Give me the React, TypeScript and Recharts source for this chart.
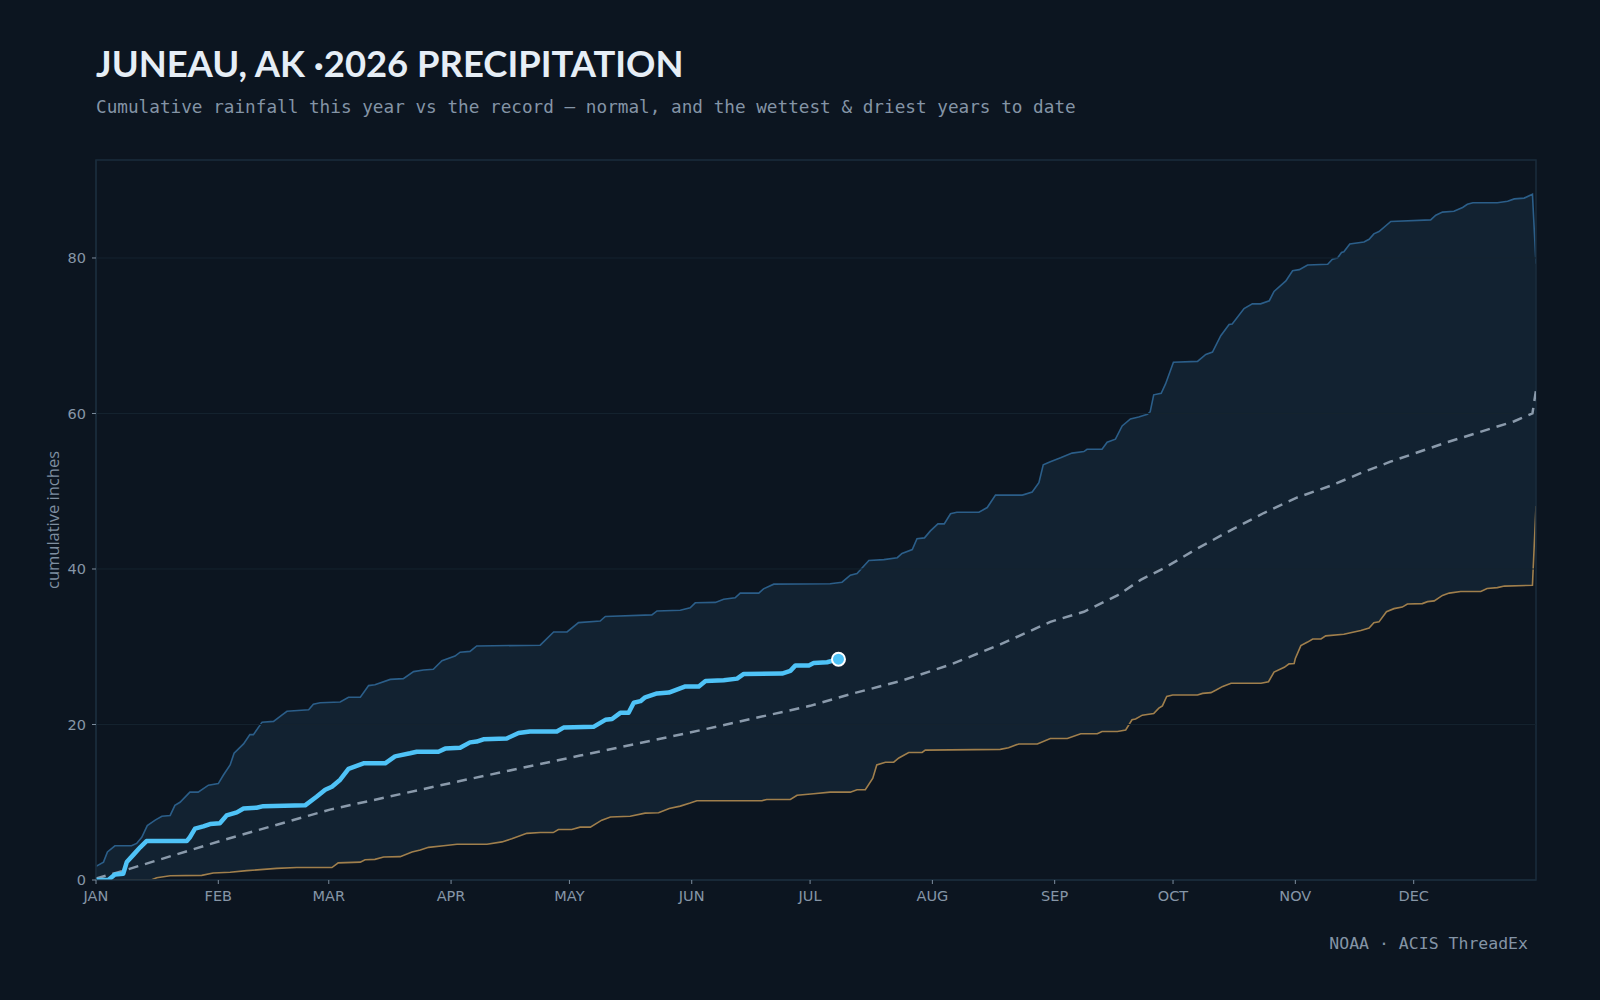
import {
  ComposedChart,
  Area,
  Line,
  XAxis,
  YAxis,
  ReferenceLine,
  ReferenceArea,
} from "recharts";

// day of year (0 = Jan 1) -> cumulative inches
const wettest: [number, number][] = [
  [0, 1.75], [1.9, 2.3], [2.9, 3.6], [4.8, 4.4], [9, 4.4], [10.3, 4.7], [11.6, 5.5], [13, 7.0],
  [15, 7.7], [16.7, 8.2], [18.8, 8.3], [20, 9.6], [21.3, 10.0], [23.8, 11.3], [25.9, 11.3],
  [28.5, 12.2], [31, 12.4], [32.3, 13.5], [34, 14.8], [35, 16.3], [37.4, 17.5], [39, 18.7],
  [39.9, 18.7], [42.1, 20.3], [45, 20.4], [47.1, 21.2], [48.4, 21.7], [53.9, 21.9], [55.1, 22.6],
  [56.8, 22.8], [61.9, 22.9], [64, 23.5], [67, 23.5], [69.1, 25.0], [70.7, 25.1], [74.6, 25.8],
  [77.9, 25.9], [80.5, 26.8], [83, 27.0], [85.5, 27.1], [87.7, 28.2], [91, 28.8], [92.3, 29.3],
  [94.8, 29.4], [96.5, 30.1], [112.6, 30.2], [116, 31.9], [119.4, 31.9], [122.3, 33.1],
  [127.8, 33.3], [129.1, 33.9], [140.9, 34.1], [142.2, 34.6], [148.1, 34.7], [150.6, 35.0],
  [151.9, 35.65], [157, 35.7], [159.1, 36.1], [162, 36.3], [163.3, 36.9], [168, 36.9],
  [169.2, 37.45], [171.8, 38.05], [186.1, 38.1], [189.1, 38.3], [191.2, 39.2], [192.9, 39.4],
  [195.9, 41.1], [199.7, 41.2], [203.1, 41.45], [204.3, 42.0], [206.9, 42.5], [208.1, 43.9],
  [210, 44.0], [211.5, 44.9], [213.4, 45.8], [215, 45.8], [216.6, 47.1], [218.2, 47.3],
  [223.8, 47.3], [225.9, 47.9], [228, 49.5], [234.8, 49.5], [237.3, 49.9], [239, 51.1],
  [240.1, 53.4], [241.9, 53.8], [244.5, 54.3], [247.4, 54.9], [250.4, 55.1], [251.2, 55.4],
  [255, 55.4], [256.3, 56.3], [258.4, 56.7], [260.1, 58.4], [262.2, 59.3], [264.3, 59.55],
  [266.5, 59.9], [267.2, 60.2], [268.1, 62.4], [270, 62.6], [271.1, 63.8], [273.1, 66.6],
  [279.2, 66.7], [281.3, 67.6], [283, 67.9], [285.1, 70.0], [287.2, 71.45], [288, 71.5],
  [291, 73.5], [293.1, 74.1], [295.2, 74.1], [297.4, 74.5], [298.6, 75.7], [301.6, 77.05],
  [303.3, 78.35], [305, 78.5], [307.1, 79.1], [312.2, 79.2], [313.4, 79.85], [314.7, 80.0],
  [315.7, 80.7], [316.3, 80.8], [317.8, 81.8], [321.4, 82.05], [322.7, 82.4], [323.9, 83.1],
  [325.2, 83.4], [328.2, 84.7], [338.3, 84.9], [339.6, 85.5], [341.3, 85.9], [344.2, 86.0],
  [346.4, 86.5], [347.6, 86.9], [349, 87.1], [355.2, 87.1], [357.8, 87.3], [359.5, 87.6],
  [362, 87.7], [364.1, 88.2], [365, 79.25],
];

const driest: [number, number][] = [
  [0, 0], [14, 0], [15.4, 0.3], [18.8, 0.55], [26.8, 0.6], [29.7, 0.9], [34, 1.0], [38.2, 1.2],
  [45.8, 1.5], [50.9, 1.6], [59.8, 1.6], [61.4, 2.2], [67, 2.3], [68.2, 2.6], [70.7, 2.65],
  [72.9, 2.95], [77.1, 3.0], [80.1, 3.6], [82.2, 3.85], [84.3, 4.2], [88.1, 4.4], [91.5, 4.6],
  [99.1, 4.6], [102.9, 4.9], [105.4, 5.3], [109.2, 6.0], [112.6, 6.1], [115.9, 6.1], [117.2, 6.5],
  [120.6, 6.5], [122.7, 6.8], [125.3, 6.8], [128.2, 7.7], [130.4, 8.1], [135.4, 8.2],
  [139.2, 8.6], [142.6, 8.65], [145.3, 9.2], [148.1, 9.5], [150.6, 9.9], [152.3, 10.2],
  [168.8, 10.2], [170, 10.35], [176, 10.35], [177.7, 10.9], [181.9, 11.1], [186.1, 11.3],
  [191.2, 11.3], [192.9, 11.6], [195, 11.6], [196.9, 13.1], [197.9, 14.8], [200.1, 15.15],
  [202.2, 15.15], [203.5, 15.7], [206, 16.4], [209.4, 16.4], [210.2, 16.7], [229.2, 16.8],
  [231.3, 17.0], [233.9, 17.5], [238.6, 17.5], [241.9, 18.2], [246.2, 18.2], [249.6, 18.8],
  [253.8, 18.8], [255, 19.1], [258.9, 19.1], [261, 19.3], [262.6, 20.6], [263.5, 20.7],
  [265.2, 21.2], [268.1, 21.4], [269.4, 22.1], [270.3, 22.4], [271.4, 23.6], [272.9, 23.8],
  [279.2, 23.8], [280.5, 24.0], [282.6, 24.1], [283.8, 24.4], [285.6, 24.9], [287.7, 25.3],
  [295.3, 25.3], [297.2, 25.5], [298.6, 26.75], [301.2, 27.35], [302.4, 27.8], [303.7, 27.85],
  [304, 28.5], [305.4, 30.15], [307.1, 30.6], [308.4, 31.0], [310.5, 31.0], [311.7, 31.4],
  [316.3, 31.6], [318, 31.8], [320.6, 32.1], [322.7, 32.4], [323.9, 33.1], [325.2, 33.2],
  [327.1, 34.5], [329, 34.9], [331.1, 35.1], [332.4, 35.5], [336.2, 35.55], [337.5, 35.8],
  [339.2, 35.9], [341.3, 36.6], [343, 36.9], [345.9, 37.1], [351, 37.1], [352.6, 37.5],
  [355.2, 37.6], [357, 37.8], [364.1, 37.9], [365, 48.1],
];

const normal: [number, number][] = [
  [0, 0.2], [7, 1.2], [32, 5.1], [59.3, 9.05], [92, 12.7], [122.7, 16.0], [150, 18.9],
  [181, 22.4], [191.2, 23.9], [204, 25.6], [216.6, 27.7], [229.2, 30.3], [241.9, 33.2],
  [250.4, 34.5], [258.9, 36.6], [264.8, 38.6], [270.7, 40.1], [279.2, 42.65], [287.7, 45.0],
  [296, 47.2], [304.5, 49.2], [312.9, 50.7], [321.4, 52.5], [328.1, 53.8], [342.5, 56.3],
  [359.5, 59.0], [364.1, 60.0], [365, 63.0],
];

const thisYear: [number, number][] = [
  [0, 0], [3.1, 0], [4.8, 0.7], [6.9, 0.8], [7.8, 2.3], [9.4, 3.2], [11.2, 4.2], [12.8, 5.0],
  [23, 5.0], [23.8, 5.5], [25.1, 6.6], [27.2, 6.9], [28.9, 7.2], [31.4, 7.3], [33.1, 8.3],
  [35.7, 8.7], [37.4, 9.2], [40.7, 9.3], [42.4, 9.5], [53, 9.6], [55.9, 10.7], [58.1, 11.6],
  [59.8, 12.0], [61.9, 12.9], [64, 14.3], [67.8, 15.0], [73.3, 15.0], [75.8, 15.9], [79.6, 16.3],
  [81.3, 16.5], [86.8, 16.5], [88.5, 16.9], [92.3, 17.0], [94.8, 17.7], [96.5, 17.8],
  [98.2, 18.1], [104.1, 18.2], [107.1, 18.9], [110, 19.1], [116.8, 19.1], [118.5, 19.6],
  [126.1, 19.7], [129.1, 20.6], [130.8, 20.7], [132.9, 21.5], [135, 21.5], [136.3, 22.8],
  [138, 23.0], [139.2, 23.5], [142.2, 24.0], [145.2, 24.1], [149.4, 24.9], [152.8, 24.9],
  [154.5, 25.6], [159.1, 25.7], [162.5, 25.9], [164.2, 26.5], [173.9, 26.55], [176, 26.9],
  [177.3, 27.6], [180.7, 27.6], [181.9, 27.9], [185.3, 28.0], [188.2, 28.4],
];

const MONTHS = ["JAN", "FEB", "MAR", "APR", "MAY", "JUN", "JUL", "AUG", "SEP", "OCT", "NOV", "DEC"];
const MONTH_START = [0, 31, 59, 90, 120, 151, 181, 212, 243, 273, 304, 334];
const Y_TICKS = [0, 20, 40, 60, 80];
const Y_MAX = 92.6;

const BG = "#0c1520";
const FRAME = "#1a2c3c";
const GRID = "#15232f";
const TICK_TEXT = "#8696a7";

const toPts = (arr: [number, number][]) => arr.map(([d, v]) => ({ d, v }));

const lastDot = (props: any) => {
  const { cx, cy, index } = props;
  if (index !== thisYear.length - 1) return <g key={`d-${index}`} />;
  return (
    <circle
      key={`d-${index}`}
      cx={cx}
      cy={cy}
      r={6.5}
      fill="#4fc3f7"
      stroke="#ffffff"
      strokeWidth={2}
    />
  );
};

export default function App() {
  return (
    <div
      style={{
        position: "relative",
        width: 1600,
        height: 1000,
        background: BG,
        overflow: "hidden",
      }}
    >
      <style>{`body{margin:0;background:${BG};}`}</style>
      <div
        style={{
          position: "absolute",
          left: 96,
          top: 45,
          fontFamily: "Lato, 'Open Sans', sans-serif",
          fontWeight: 700,
          fontSize: 36.4,
          lineHeight: 1,
          color: "#e6eef6",
          whiteSpace: "nowrap",
        }}
      >
        JUNEAU, AK ·2026 PRECIPITATION
      </div>
      <div
        style={{
          position: "absolute",
          left: 96,
          top: 99,
          fontFamily: "'DejaVu Sans Mono', monospace",
          fontSize: 17.7,
          lineHeight: 1,
          color: "#8494a6",
          whiteSpace: "nowrap",
        }}
      >
        Cumulative rainfall this year vs the record — normal, and the wettest &amp; driest years to date
      </div>
      <div
        style={{
          position: "absolute",
          left: 52,
          top: 520,
          transform: "translate(-50%, -50%) rotate(-90deg)",
          fontFamily: "'Open Sans', 'Noto Sans', sans-serif",
          fontSize: 16.5,
          color: "#7f8fa0",
          whiteSpace: "nowrap",
        }}
      >
        cumulative inches
      </div>
      <div
        style={{
          position: "absolute",
          right: 72,
          top: 936,
          fontFamily: "'DejaVu Sans Mono', monospace",
          fontSize: 16.5,
          lineHeight: 1,
          color: "#8494a6",
          whiteSpace: "nowrap",
        }}
      >
        NOAA · ACIS ThreadEx
      </div>
      <div style={{ position: "absolute", left: 0, top: 0 }}>
        <ComposedChart
          width={1600}
          height={1000}
          margin={{ top: 160, right: 64, bottom: 90, left: 36 }}
        >
          <XAxis
            dataKey="d"
            type="number"
            domain={[0, 365]}
            ticks={MONTH_START}
            interval={0}
            allowDataOverflow
            tickFormatter={(v: number) => MONTHS[MONTH_START.indexOf(v)]}
            height={30}
            axisLine={{ stroke: FRAME }}
            tickLine={{ stroke: "#7d8d9d" }}
            tickSize={4}
            tickMargin={7}
            tick={{ fill: TICK_TEXT, fontSize: 14.5, fontFamily: "DejaVu Sans" }}
          />
          <YAxis
            type="number"
            domain={[0, Y_MAX]}
            ticks={Y_TICKS}
            interval={0}
            allowDataOverflow
            width={60}
            axisLine={{ stroke: FRAME }}
            tickLine={{ stroke: "#7d8d9d" }}
            tickSize={4}
            tickMargin={6}
            tick={{ fill: TICK_TEXT, fontSize: 14.5, fontFamily: "DejaVu Sans" }}
          />
          {Y_TICKS.slice(1).map((y) => (
            <ReferenceLine key={`g-${y}`} y={y} stroke={GRID} strokeWidth={1} />
          ))}
          <Area
            data={toPts(wettest)}
            dataKey="v"
            type="linear"
            baseValue={0}
            stroke="#2b5e89"
            strokeWidth={1.6}
            fill="#122231"
            fillOpacity={1}
            isAnimationActive={false}
          />
          <Area
            data={toPts(driest)}
            dataKey="v"
            type="linear"
            baseValue={0}
            stroke="#a07f4c"
            strokeWidth={1.6}
            fill={BG}
            fillOpacity={1}
            isAnimationActive={false}
          />
          <ReferenceArea
            x1={0}
            x2={365}
            y1={0}
            y2={Y_MAX}
            fill="none"
            stroke={FRAME}
            strokeWidth={1.5}
          />
          <Line
            data={toPts(normal)}
            dataKey="v"
            type="linear"
            stroke="#8a9aab"
            strokeWidth={2.5}
            strokeDasharray="10 7"
            dot={false}
            isAnimationActive={false}
          />
          <Line
            data={toPts(thisYear)}
            dataKey="v"
            type="linear"
            stroke="#4fc3f7"
            strokeWidth={4.5}
            strokeLinejoin="round"
            dot={lastDot}
            activeDot={false}
            isAnimationActive={false}
          />
        </ComposedChart>
      </div>
    </div>
  );
}
